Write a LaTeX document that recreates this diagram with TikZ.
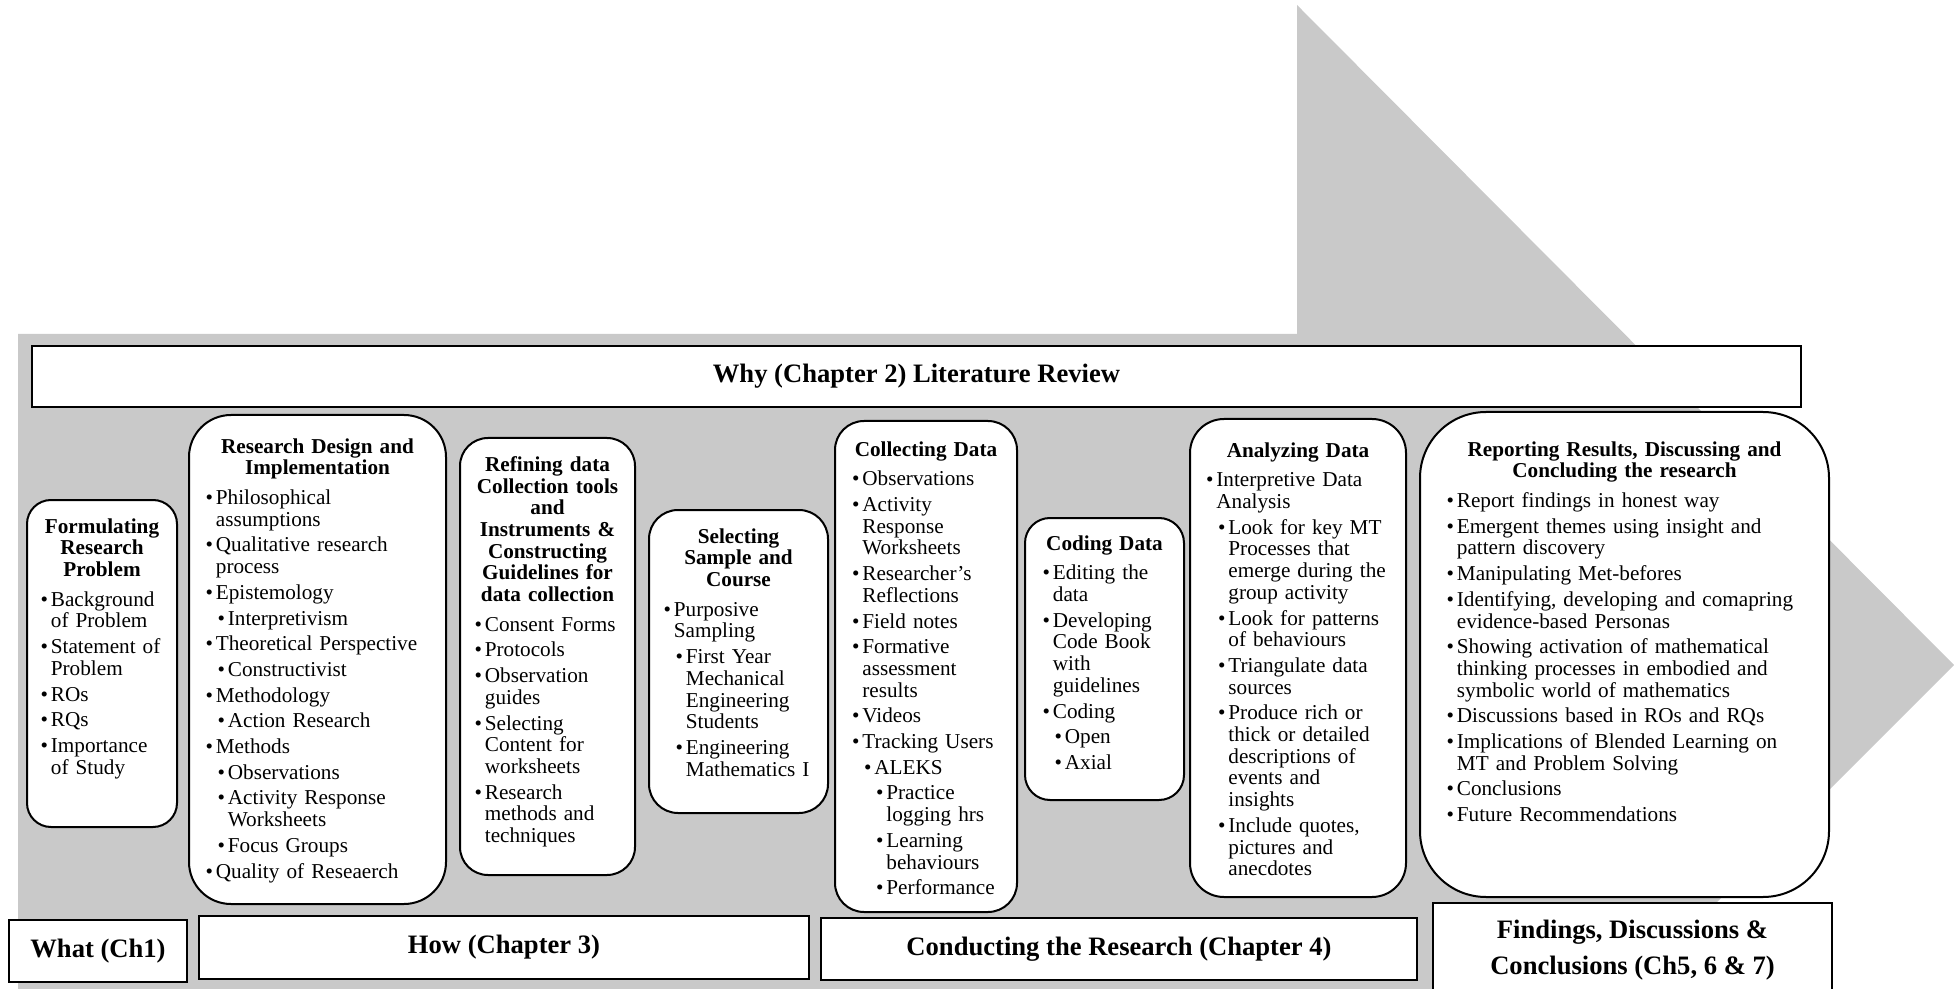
\documentclass[tikz,border=0pt]{standalone}
\usepackage{fontspec}
\setmainfont{Liberation Serif}

\definecolor{arrowgray}{RGB}{201,201,201}

\newlength{\bulw}\setlength{\bulw}{5.2pt}
% bullet item, optional argument = indent of the level
\newcommand{\itm}[2][0pt]{{\leftskip=#1\relax\hangindent=\bulw\hangafter=1\noindent\makebox[\bulw][l]{\textbullet}#2\par}}
\newcommand{\boxtitle}[1]{{\centering\bfseries #1\par}\vspace{2pt}}

\tikzset{
    stage/.style = {draw=black, fill=white, line width=1pt},
    stagetext/.style = {anchor=north, inner sep=0pt, align=left,
        font=\fontsize{10.6}{10.85}\selectfont,
        execute at begin node={\parskip=2pt\hyphenpenalty=10000}},
    chapbox/.style = {draw=black, fill=white, line width=1.2pt, inner sep=0pt,
        font=\fontsize{13.3}{18}\selectfont\bfseries},
}

\begin{document}
\begin{tikzpicture}[x=1pt, y=-1pt]

    \useasboundingbox (0,0) rectangle (977,494.5);

    % big gray arrow behind everything
    \fill[arrowgray] (9,167) -- (648.5,167) -- (648.5,2.5) -- (977,332.5) -- (815,494.5) -- (9,494.5) -- cycle;

    \node[chapbox, minimum width=884.5pt, minimum height=30.5pt] (why) at (458.25,188.25) {Why (Chapter 2) Literature Review};

    % rounded stage boxes
    \foreach \xa/\ya/\xb/\yb/\r in {13.5/250/88.5/413.5/12, 94.5/207.5/223/452/21,
        230/219/317.5/437.5/14, 324.5/255/414/406.5/14.5, 417.5/210.5/508.5/456/14.5,
        512.5/259/592/400/12.5, 595/209.5/703/448.5/17, 710/206/914.5/448.5/33}
    \draw[stage, rounded corners=\r pt] (\xa,\ya) rectangle (\xb,\yb);

    \node[stagetext, text width=61.5pt] (formtxt) at (51,259) {\boxtitle{Formulating\\Research\\Problem}
        \itm{Background\newline of Problem}
        \itm{Statement of\newline Problem}
        \itm{ROs}
        \itm{RQs}
        \itm{Importance\newline of Study}};

    \node[stagetext, text width=112pt] (designtxt) at (158.75,219) {\boxtitle{Research Design and\\Implementation}
        \itm{Philosophical\newline assumptions}
        \itm{Qualitative research\newline process}
        \itm{Epistemology}
        \itm[6pt]{Interpretivism}
        \itm{Theoretical Perspective}
        \itm[6pt]{Constructivist}
        \itm{Methodology}
        \itm[6pt]{Action Research}
        \itm{Methods}
        \itm[6pt]{Observations}
        \itm[6pt]{Activity Response\newline Worksheets}
        \itm[6pt]{Focus Groups}
        \itm{Quality of Reseaerch}};

    \node[stagetext, text width=73pt] (refinetxt) at (273.75,228) {\boxtitle{Refining data\\Collection tools\\and\\Instruments \&\\Constructing\\Guidelines for\\data collection}
        \itm{Consent Forms}
        \itm{Protocols}
        \itm{Observation\newline guides}
        \itm{Selecting\newline Content for\newline worksheets}
        \itm{Research\newline methods and\newline techniques}};

    \node[stagetext, text width=75pt] (selecttxt) at (369.25,264) {\boxtitle{Selecting\\Sample and\\Course}
        \itm{Purposive\newline Sampling}
        \itm[6pt]{First Year\newline Mechanical\newline Engineering\newline Students}
        \itm[6pt]{Engineering\newline Mathematics I}};

    \node[stagetext, text width=74pt] (collecttxt) at (463,220.5) {\boxtitle{Collecting Data}
        \itm{Observations}
        \itm{Activity\newline Response\newline Worksheets}
        \itm{Researcher\char39 s\newline Reflections}
        \itm{Field notes}
        \itm{Formative\newline assessment\newline results}
        \itm{Videos}
        \itm{Tracking Users}
        \itm[6pt]{ALEKS}
        \itm[12pt]{Practice\newline logging hrs}
        \itm[12pt]{Learning\newline behaviours}
        \itm[12pt]{Performance}};

    \node[stagetext, text width=62pt] (codetxt) at (552.25,267.5) {\boxtitle{Coding Data}
        \itm{Editing the\newline data}
        \itm{Developing\newline Code Book\newline with\newline guidelines}
        \itm{Coding}
        \itm[6pt]{Open}
        \itm[6pt]{Axial}};

    \node[stagetext, text width=92pt] (analyzetxt) at (649,221) {\boxtitle{Analyzing Data}
        \itm{Interpretive Data\newline Analysis}
        \itm[6pt]{Look for key MT\newline Processes that\newline emerge during the\newline group activity}
        \itm[6pt]{Look for patterns\newline of behaviours}
        \itm[6pt]{Triangulate data\newline sources}
        \itm[6pt]{Produce rich or\newline thick or detailed\newline descriptions of\newline events and\newline insights}
        \itm[6pt]{Include quotes,\newline pictures and\newline anecdotes}};

    \node[stagetext, text width=178pt] (reporttxt) at (812.25,220.5) {\boxtitle{Reporting Results, Discussing and\\Concluding the research}
        \itm{Report findings in honest way}
        \itm{Emergent themes using insight and\newline pattern discovery}
        \itm{Manipulating Met-befores}
        \itm{Identifying, developing and comapring\newline evidence-based Personas}
        \itm{Showing activation of mathematical\newline thinking processes in embodied and\newline symbolic world of mathematics}
        \itm{Discussions based in ROs and RQs}
        \itm{Implications of Blended Learning on\newline MT and Problem Solving}
        \itm{Conclusions}
        \itm{Future Recommendations}};

    % chapter labels along the bottom
    \node[chapbox, minimum width=89pt, minimum height=31pt] (what) at (49,475.5) {What (Ch1)};
    \node[chapbox, minimum width=305pt, minimum height=31.5pt] (how) at (252,473.75) {How (Chapter 3)};
    \node[chapbox, minimum width=298pt, minimum height=31pt] (conduct) at (559.5,474.5) {Conducting the Research (Chapter 4)};
    \fill[white] (716.5,451.5) rectangle (916,494.5);
    \draw[line width=1.2pt] (716.5,494.5) |- (916,451.5) -- (916,494.5);
    \node[anchor=north, inner sep=0pt, align=center, font=\fontsize{13.3}{18}\selectfont\bfseries] (findings) at (816.25,460) {Findings, Discussions \&\\Conclusions (Ch5, 6 \& 7)};

\end{tikzpicture}
\end{document}
